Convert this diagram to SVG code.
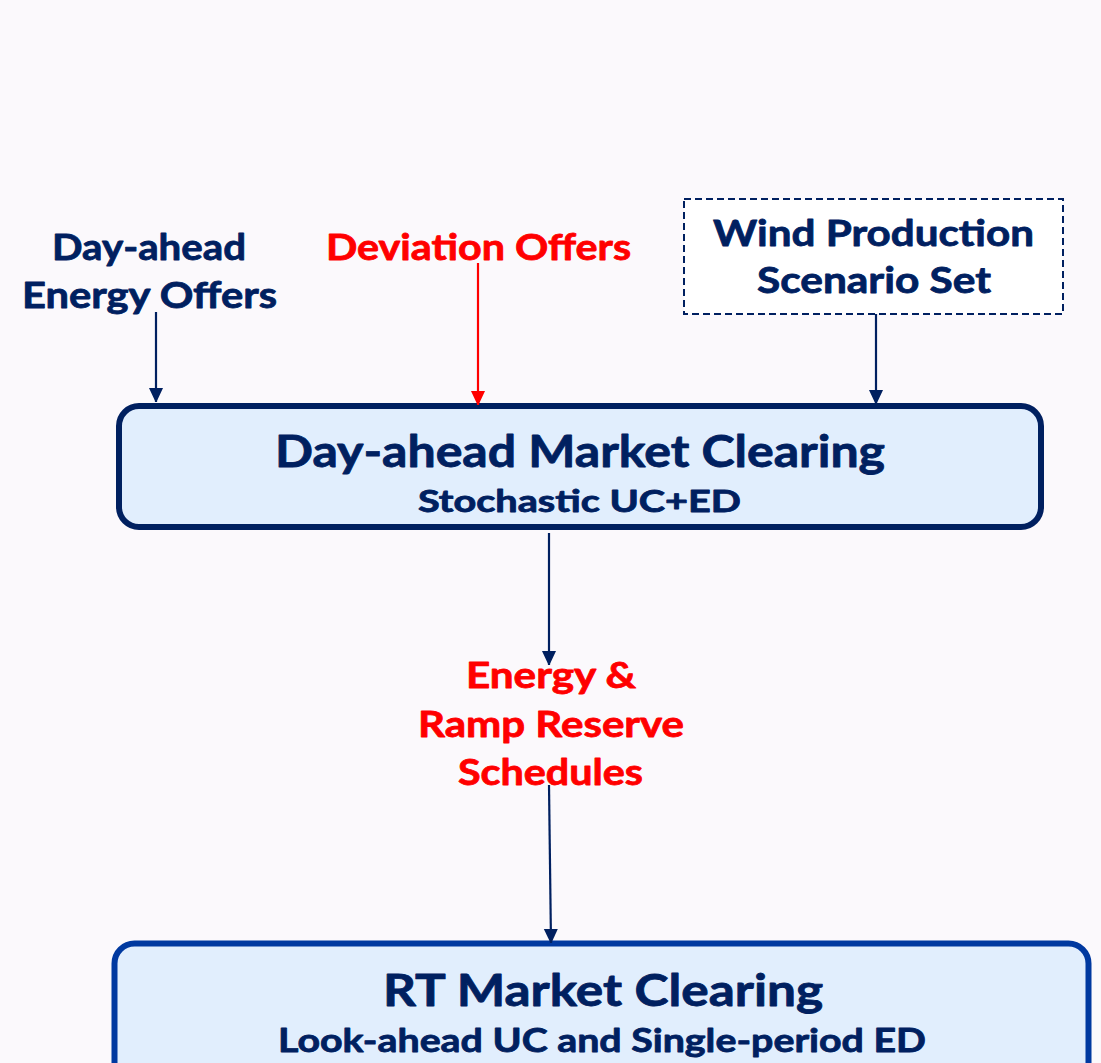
<svg xmlns="http://www.w3.org/2000/svg" width="1101" height="1063" viewBox="0 0 1101 1063">
  <style>
    text { font-family: "Lato", "Open Sans", "Liberation Sans", sans-serif; font-weight: 700; text-anchor: middle; stroke-width: 0.8px; stroke-linejoin: round; }
    .navy { fill: #002060; stroke: #002060; }
    .red { fill: #ff0000; stroke: #ff0000; }
    .lbl { font-size: 37px; }
    .title { font-size: 44px; }
    .sub { font-size: 30px; }
    .sub2 { font-size: 33px; }
    .box { fill: #e1eefd; stroke-width: 6; }
    .line { stroke-width: 2.2; fill: none; }
  </style>
  <defs>
    <marker id="headNavy" markerUnits="userSpaceOnUse" markerWidth="14" markerHeight="16" refX="14" refY="7" orient="auto">
      <path d="M0,0 L15,7 L0,14 Z" fill="#002060"/>
    </marker>
    <marker id="headRed" markerUnits="userSpaceOnUse" markerWidth="14" markerHeight="16" refX="14" refY="7" orient="auto">
      <path d="M0,0 L15,7 L0,14 Z" fill="#ff0000"/>
    </marker>
  </defs>

  <rect x="0" y="0" width="1101" height="1063" fill="#fbf9fc"/>

  <!-- input label: day-ahead energy offers -->
  <g id="da-energy-offers">
    <text class="navy lbl" x="149" y="260" textLength="194" lengthAdjust="spacingAndGlyphs">Day-ahead</text>
    <text class="navy lbl" x="149.5" y="308" textLength="255" lengthAdjust="spacingAndGlyphs">Energy Offers</text>
  </g>

  <!-- input label: deviation offers -->
  <g id="deviation-offers">
    <text class="red lbl" x="478.5" y="260" textLength="305" lengthAdjust="spacingAndGlyphs">Deviation Offers</text>
  </g>

  <!-- dashed input box: wind scenarios -->
  <g id="wind-scenarios">
    <rect x="684" y="199" width="379" height="115" fill="#ffffff" stroke="#002060" stroke-width="2" stroke-dasharray="7 4"/>
    <text class="navy lbl" x="873.5" y="246" textLength="321" lengthAdjust="spacingAndGlyphs">Wind Production</text>
    <text class="navy lbl" x="874" y="293" textLength="234" lengthAdjust="spacingAndGlyphs">Scenario Set</text>
  </g>

  <!-- day-ahead clearing -->
  <g id="da-clearing">
    <rect class="box" x="119" y="406" width="922" height="121" rx="20" stroke="#002060"/>
    <text class="navy title" x="580" y="467" textLength="610" lengthAdjust="spacingAndGlyphs">Day-ahead Market Clearing</text>
    <text class="navy sub" x="579.5" y="512" textLength="323" lengthAdjust="spacingAndGlyphs">Stochastic UC+ED</text>
  </g>

  <!-- schedules passed downstream -->
  <g id="schedules">
    <text class="red lbl" x="551" y="688" textLength="170" lengthAdjust="spacingAndGlyphs">Energy &amp;</text>
    <text class="red lbl" x="551" y="737" textLength="266" lengthAdjust="spacingAndGlyphs">Ramp Reserve</text>
    <text class="red lbl" x="550.5" y="785" textLength="185" lengthAdjust="spacingAndGlyphs">Schedules</text>
  </g>

  <!-- real-time clearing -->
  <g id="rt-clearing">
    <rect class="box" x="114.5" y="943.5" width="974" height="160" rx="20" stroke="#0039a0" stroke-width="5"/>
    <text class="navy title" x="603" y="1006" textLength="440" lengthAdjust="spacingAndGlyphs">RT Market Clearing</text>
    <text class="navy sub2" x="602" y="1052" textLength="648" lengthAdjust="spacingAndGlyphs">Look-ahead UC and Single-period ED</text>
  </g>

  <!-- connectors -->
  <g id="connectors">
    <line class="line" x1="156" y1="312" x2="156" y2="402" stroke="#002060" marker-end="url(#headNavy)"/>
    <line class="line" x1="478" y1="263" x2="478" y2="405" stroke="#ff0000" marker-end="url(#headRed)"/>
    <line class="line" x1="876" y1="314" x2="876" y2="404" stroke="#002060" marker-end="url(#headNavy)"/>
    <line class="line" x1="549" y1="533" x2="549" y2="665" stroke="#002060" marker-end="url(#headNavy)"/>
    <line class="line" x1="549" y1="785" x2="551" y2="943" stroke="#002060" marker-end="url(#headNavy)"/>
  </g>
</svg>
